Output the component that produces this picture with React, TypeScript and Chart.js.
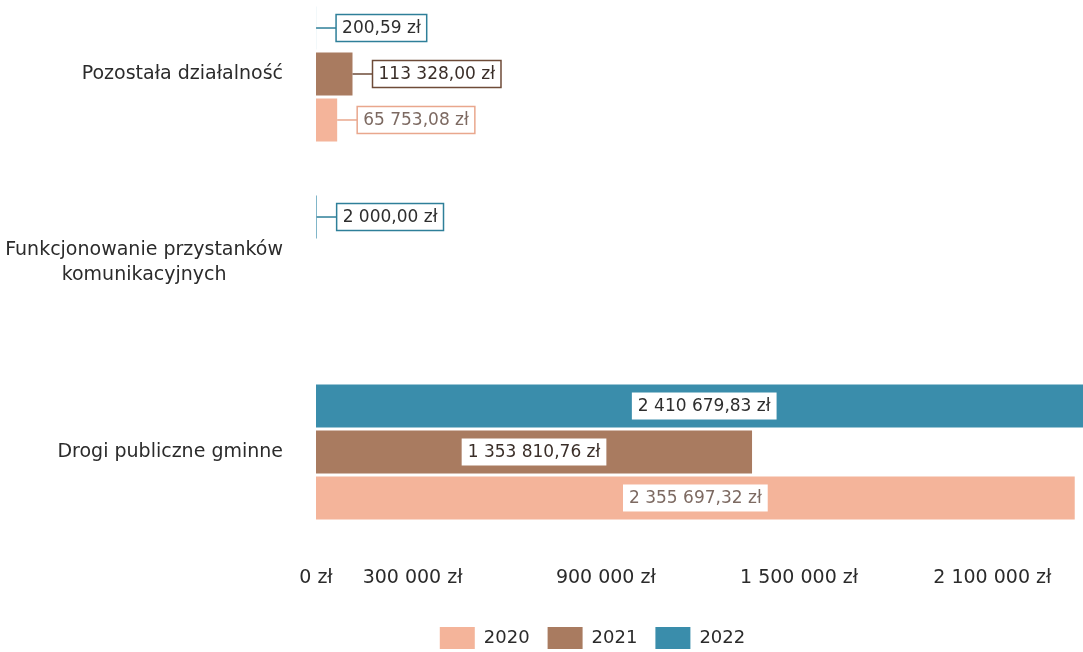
import React, { useEffect, useRef } from "react";
import { Chart, registerables } from "chart.js";

Chart.register(...registerables);

// ---- data ----
const categories: string[][] = [
  ["Pozostała działalność"],
  ["Funkcjonowanie przystanków", "komunikacyjnych"],
  ["Drogi publiczne gminne"],
];
const years = ["2022", "2021", "2020"]; // top → bottom inside each group
const values2020: (number | null)[] = [65753.08, null, 2355697.32];
const values2021: (number | null)[] = [113328.0, null, 1353810.76];
const values2022: (number | null)[] = [200.59, 2000.0, 2410679.83];
const xTickValues = [0, 300000, 900000, 1500000, 2100000];
const xMax = 2400000;

// ---- styles ----
const FONT = "'DejaVu Sans', Verdana, sans-serif";
const fills = ["#3A8DAB", "#A97B60", "#F4B49A"];
const borders = ["#2E7F99", "#6E4B38", "#E9A78D"];
const textColors = ["#2e2e2e", "#3a2e28", "#7d6a62"];
const LEGEND_SHIFT = 48;

function fmt(v: number, dec: number): string {
  const fixed = v.toFixed(dec);
  const [intPart, frac] = fixed.split(".");
  const grouped = intPart.replace(/\B(?=(\d{3})+(?!\d))/g, " ");
  return (frac ? grouped + "," + frac : grouped) + " zł";
}

const valueLabelPlugin = {
  id: "valueLabels",
  afterDatasetsDraw(chart: any) {
    const ctx = chart.ctx as CanvasRenderingContext2D;
    chart.data.datasets.forEach((ds: any, di: number) => {
      const meta = chart.getDatasetMeta(di);
      meta.data.forEach((el: any, i: number) => {
        const v = ds.data[i];
        if (v == null) return;
        const text = fmt(v, 2);
        ctx.save();
        ctx.font = `17px ${FONT}`;
        const tw = ctx.measureText(text).width;
        const bw = tw + 12;
        const bh = 27;
        const end = el.x;
        const base = el.base;
        const y = el.y;
        if (end - base > bw + 30) {
          const cx = (end + base) / 2;
          ctx.fillStyle = "#ffffff";
          ctx.fillRect(cx - bw / 2, y - bh / 2, bw, bh);
          ctx.fillStyle = textColors[di];
          ctx.textAlign = "center";
          ctx.textBaseline = "middle";
          ctx.fillText(text, cx, y + 1);
        } else {
          const lineLen = 20;
          ctx.strokeStyle = borders[di];
          ctx.lineWidth = 1.5;
          ctx.beginPath();
          ctx.moveTo(end, y);
          ctx.lineTo(end + lineLen, y);
          ctx.stroke();
          const bx = end + lineLen;
          ctx.fillStyle = "#ffffff";
          ctx.fillRect(bx, y - bh / 2, bw, bh);
          ctx.strokeRect(bx, y - bh / 2, bw, bh);
          ctx.fillStyle = textColors[di];
          ctx.textAlign = "left";
          ctx.textBaseline = "middle";
          ctx.fillText(text, bx + 6, y + 1);
        }
        ctx.restore();
      });
    });
  },
};

const categoryLabelPlugin = {
  id: "categoryLabels",
  afterDraw(chart: any) {
    const ctx = chart.ctx as CanvasRenderingContext2D;
    const yScale = chart.scales.y;
    ctx.save();
    ctx.font = `19px ${FONT}`;
    ctx.fillStyle = "#2b2b2b";
    ctx.textAlign = "center";
    ctx.textBaseline = "middle";
    const right = 283;
    const lh = 25;
    categories.forEach((lines, i) => {
      const y = yScale.getPixelForValue(i);
      const w = Math.max(...lines.map((l) => ctx.measureText(l).width));
      const cx = right - w / 2;
      lines.forEach((l, k) => {
        ctx.fillText(l, cx, y + (k - (lines.length - 1) / 2) * lh);
      });
    });
    ctx.restore();
  },
};

const legendShiftPlugin = {
  id: "legendShift",
  afterLayout(chart: any) {
    const lg = chart.legend;
    if (lg) {
      lg.left += LEGEND_SHIFT;
      lg.right += LEGEND_SHIFT;
    }
  },
};

export default function App() {
  const canvasRef = useRef<HTMLCanvasElement | null>(null);

  useEffect(() => {
    document.body.style.margin = "0";
    document.body.style.overflow = "hidden";
    const canvas = canvasRef.current;
    if (!canvas) return;
    const seriesByYear: Record<string, (number | null)[]> = {
      "2020": values2020,
      "2021": values2021,
      "2022": values2022,
    };
    const chart = new Chart(canvas, {
      type: "bar",
      data: {
        labels: categories.map((c) => c.join(" ")),
        datasets: years.map((yr, di) => ({
          label: yr,
          data: seriesByYear[yr],
          backgroundColor: fills[di],
          borderWidth: 0,
          categoryPercentage: 0.73,
          barPercentage: 0.935,
        })),
      },
      options: {
        indexAxis: "y",
        animation: false,
        responsive: false,
        layout: { padding: { left: 0, right: 99, top: 19.5, bottom: 1 } },
        scales: {
          x: {
            min: 0,
            max: xMax,
            grid: { display: false, drawTicks: false },
            border: { display: false },
            afterBuildTicks: (scale: any) => {
              scale.ticks = xTickValues.map((v) => ({ value: v }));
            },
            afterFit: (scale: any) => {
              scale.height = 62.5;
            },
            ticks: {
              padding: 20,
              color: "#2b2b2b",
              font: { family: FONT, size: 19 },
              autoSkip: false,
              maxRotation: 0,
              callback: (v: any) => fmt(Number(v), 0),
            },
          },
          y: {
            grid: { display: false, drawTicks: false },
            border: { display: false },
            ticks: { display: false },
            afterFit: (scale: any) => {
              scale.width = 316;
            },
          },
        },
        plugins: {
          legend: {
            position: "bottom",
            reverse: true,
            labels: {
              boxWidth: 35,
              boxHeight: 22,
              padding: 18,
              color: "#2b2b2b",
              font: { family: FONT, size: 18 },
            },
          },
          tooltip: { enabled: false },
        },
      },
      plugins: [valueLabelPlugin, categoryLabelPlugin, legendShiftPlugin],
    } as any);
    return () => chart.destroy();
  }, []);

  return (
    <div style={{ position: "relative", width: 1083, height: 652, overflow: "hidden", background: "#fff" }}>
      <canvas
        ref={canvasRef}
        width={1188}
        height={700}
        style={{ position: "absolute", left: 0, top: -40, width: 1188, height: 700 }}
      />
    </div>
  );
}
